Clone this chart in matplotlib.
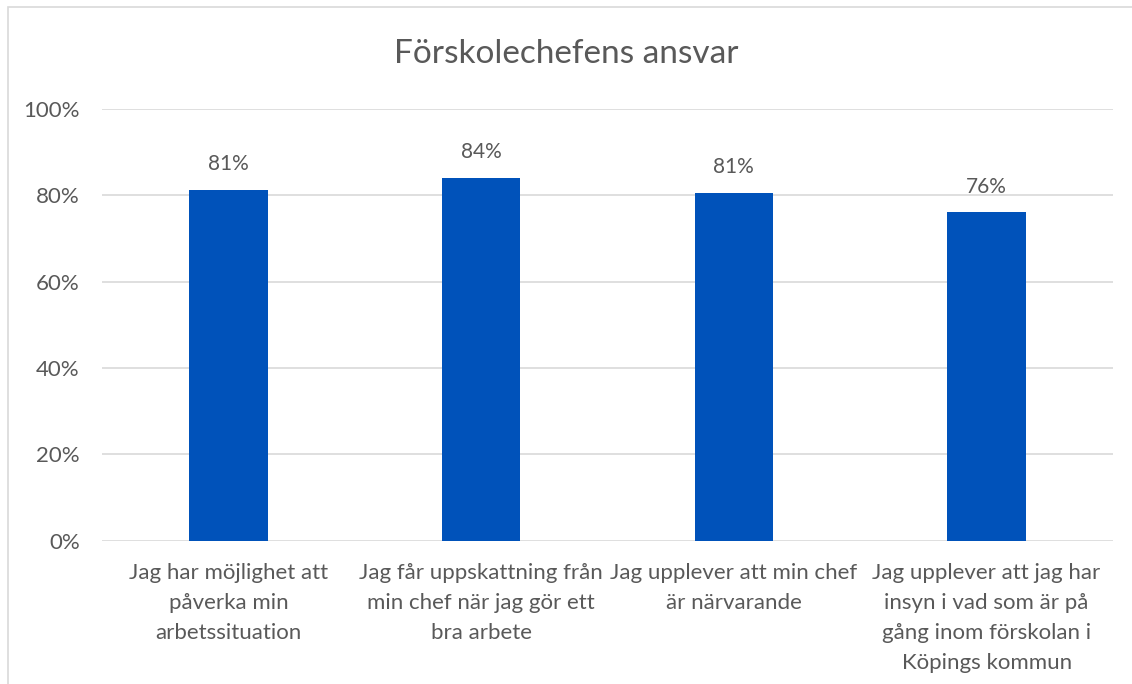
import numpy as np
import matplotlib.pyplot as plt
import matplotlib
from matplotlib.ticker import PercentFormatter

plt.rcParams['font.family'] = ['Lato', 'DejaVu Sans']

categories = ['Jag har möjlighet att\npåverka min\narbetssituation',
              'Jag får uppskattning från\nmin chef när jag gör ett\nbra arbete',
              'Jag upplever att min chef\när närvarande',
              'Jag upplever att jag har\ninsyn i vad som är på\ngång inom förskolan i\nKöpings kommun']
values = [81.2, 84.0, 80.6, 76.0]
labels = ['81%', '84%', '81%', '76%']

text_col = '#595959'
grid_col = '#d9d9d9'

fig = plt.figure(figsize=(11.32, 6.84), dpi=100)
ax = fig.add_axes([102/1132, 1-540.7/684, (1113-102)/1132, 432/684])

x = np.arange(len(categories))
bars = ax.bar(x, values, width=0.31, color='#0052BA', zorder=3)
for b, lab in zip(bars, labels):
    ax.text(b.get_x() + b.get_width()/2, b.get_height() + 3.6, lab,
            ha='center', va='bottom', fontsize=15, color=text_col)

ax.set_xlim(-0.5, len(categories) - 0.5)
ax.set_ylim(0, 100)
ax.set_yticks(np.arange(0, 101, 20))
ax.yaxis.set_major_formatter(PercentFormatter(decimals=0))
ax.set_xticks(x)
ax.set_xticklabels(categories, fontsize=16, color=text_col, linespacing=1.62)
ax.tick_params(axis='y', labelsize=16, labelcolor=text_col, length=0, pad=16)
ax.tick_params(axis='x', length=0, pad=16)
ax.grid(axis='y', color=grid_col, linewidth=1.2, zorder=0)
for s in ax.spines.values():
    s.set_visible(False)

fig.text(0.5, 1-54/684, 'Förskolechefens ansvar', ha='center', va='center',
         fontsize=24, color=text_col)

# outer chart border
border = matplotlib.patches.Rectangle((8/1132, -0.1), 1.2, 1-7/684+0.1,
                                      transform=fig.transFigure, fill=False,
                                      edgecolor=grid_col, linewidth=1.2)
fig.patches.append(border)

fig.savefig('out.png', dpi=100)
